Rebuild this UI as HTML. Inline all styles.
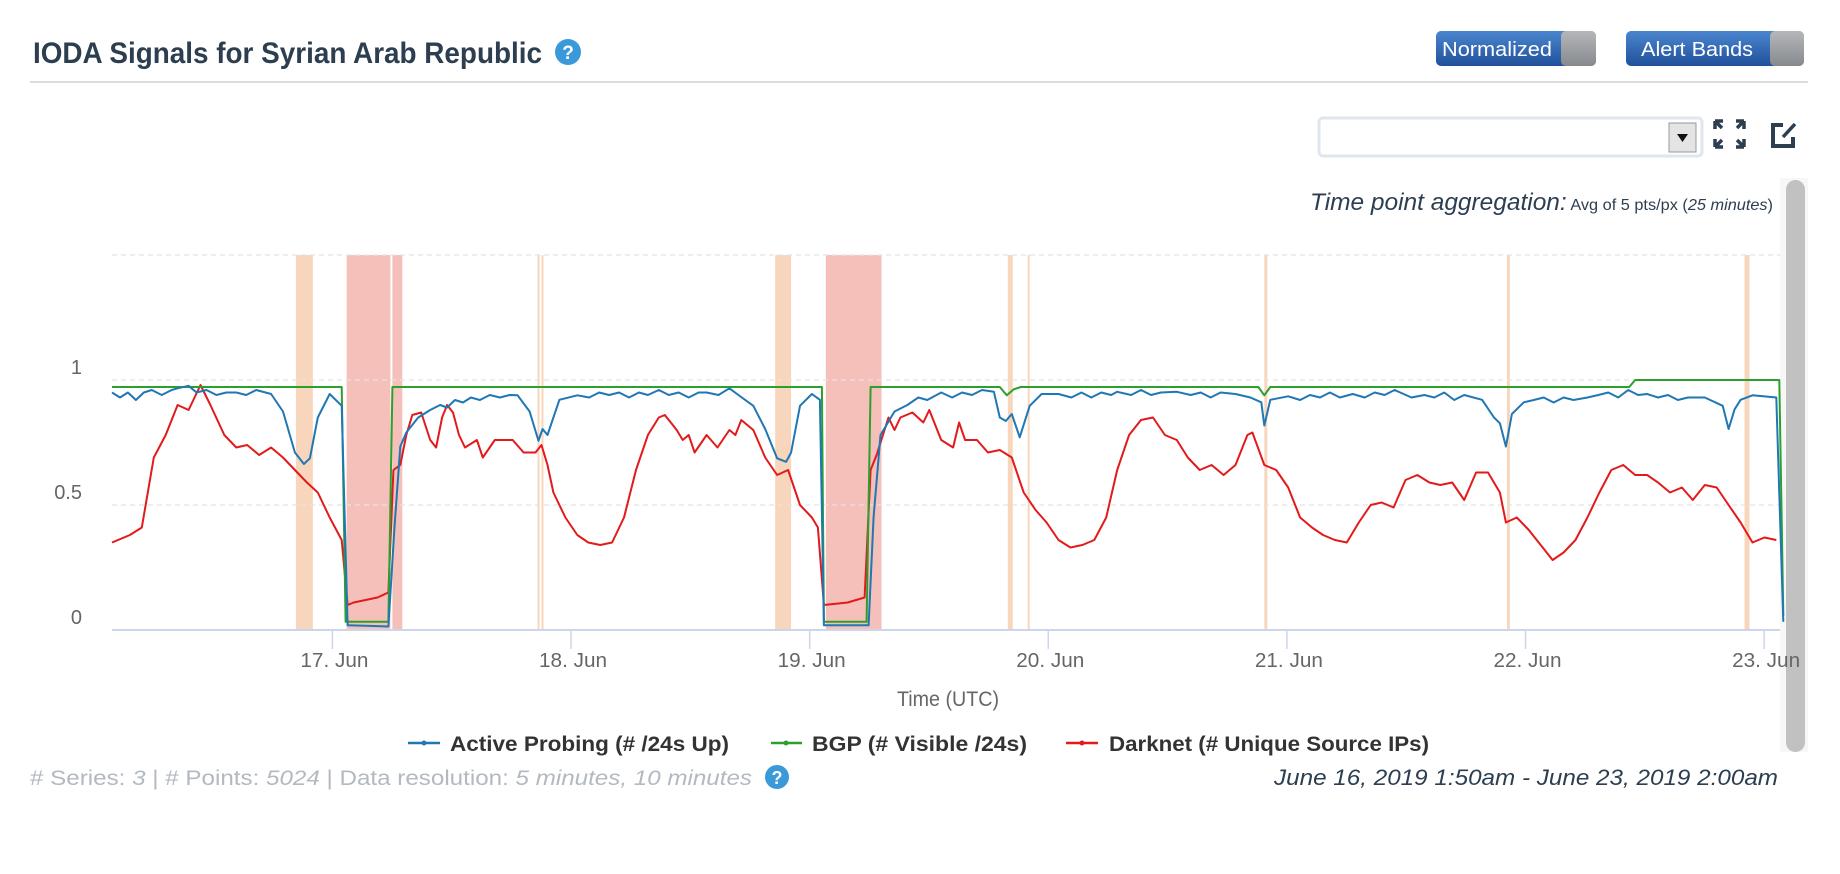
<!DOCTYPE html>
<html><head><meta charset="utf-8"><style>
html,body{margin:0;padding:0;background:#fff;width:1840px;height:874px;overflow:hidden;font-family:"Liberation Sans",sans-serif}
svg{position:absolute;left:0;top:0}
</style></head><body>
<svg id="page" width="1840" height="874" viewBox="0 0 1840 874" xmlns="http://www.w3.org/2000/svg" font-family="Liberation Sans, sans-serif">
<defs>
<linearGradient id="btn" x1="0" y1="0" x2="0" y2="1"><stop offset="0" stop-color="#4a86cf"/><stop offset="1" stop-color="#21509a"/></linearGradient>
<linearGradient id="knob" x1="0" y1="0" x2="0" y2="1"><stop offset="0" stop-color="#b5b7ba"/><stop offset="1" stop-color="#86898d"/></linearGradient>
</defs>
<g>
<text x="33" y="63" font-size="30" font-weight="bold" fill="#2c3e50" textLength="509" lengthAdjust="spacingAndGlyphs">IODA Signals for Syrian Arab Republic</text>
<g><circle cx="568" cy="52" r="13" fill="#3a9ad9"/><text x="568" y="59" font-size="19" font-weight="bold" fill="#fff" text-anchor="middle">?</text></g>
<line x1="30" y1="82" x2="1808" y2="82" stroke="#dcdcdc" stroke-width="2"/>
<g>
<rect x="1436" y="31" width="160" height="35" rx="5" fill="url(#btn)"/>
<rect x="1561" y="31" width="35" height="35" rx="5" fill="url(#knob)"/>
<text x="1442" y="56" font-size="20" fill="#fff" textLength="110" lengthAdjust="spacingAndGlyphs">Normalized</text>
</g>
<g>
<rect x="1626" y="31" width="178" height="35" rx="5" fill="url(#btn)"/>
<rect x="1770" y="31" width="34" height="35" rx="5" fill="url(#knob)"/>
<text x="1641" y="56" font-size="20" fill="#fff" textLength="112" lengthAdjust="spacingAndGlyphs">Alert Bands</text>
</g>
<g>
<rect x="1319" y="118" width="383" height="38" rx="4" fill="#fff" stroke="#dfe6ee" stroke-width="3"/>
<rect x="1669" y="123" width="27" height="29" fill="#e4e4e4" stroke="#999" stroke-width="1"/>
<path d="M1677 134 L1688 134 L1682.5 142 Z" fill="#111"/>
</g>
<g stroke="#2c3e50" stroke-width="3.5" fill="none">
<path d="M1715 121 L1715 129 M1715 121 L1723 121 M1716 122 L1722 128"/>
<path d="M1744 121 L1736 121 M1744 121 L1744 129 M1743 122 L1737 128"/>
<path d="M1715 147 L1715 139 M1715 147 L1723 147 M1716 146 L1722 140"/>
<path d="M1744 147 L1736 147 M1744 147 L1744 139 M1743 146 L1737 140"/>
</g>
<g fill="none" stroke="#2c3e50" stroke-width="4">
<path d="M1783 125 L1773 125 L1773 146 L1793 146 L1793 137"/>
<path d="M1783 137 L1795 124" stroke-width="3.5"/>
</g>
<g>
<rect x="1780" y="178" width="28" height="574" fill="#f7f7f7"/>
<rect x="1786" y="180" width="19" height="572" rx="9.5" fill="#c1c1c1"/>
</g>
<text x="1310" y="210" fill="#2c3e50" textLength="463" lengthAdjust="spacingAndGlyphs"><tspan font-size="24" font-style="italic">Time point aggregation:</tspan><tspan font-size="16"> Avg of 5 pts/px (</tspan><tspan font-size="16" font-style="italic">25 minutes</tspan><tspan font-size="16">)</tspan></text>
</g>
<g id="chart"></g>
<g>
<g><line x1="408" y1="743" x2="440" y2="743" stroke="#1f77b4" stroke-width="2.5"/><circle cx="424" cy="743" r="2.5" fill="#1f77b4"/><text x="450" y="751" font-size="21" font-weight="bold" fill="#333" textLength="279" lengthAdjust="spacingAndGlyphs">Active Probing (# /24s Up)</text></g>
<g><line x1="771" y1="743" x2="802" y2="743" stroke="#2ca02c" stroke-width="2.5"/><circle cx="786" cy="743" r="2.5" fill="#2ca02c"/><text x="812" y="751" font-size="21" font-weight="bold" fill="#333" textLength="215" lengthAdjust="spacingAndGlyphs">BGP (# Visible /24s)</text></g>
<g><line x1="1066" y1="743" x2="1098" y2="743" stroke="#e31a1c" stroke-width="2.5"/><circle cx="1082" cy="743" r="2.5" fill="#e31a1c"/><text x="1109" y="751" font-size="21" font-weight="bold" fill="#333" textLength="320" lengthAdjust="spacingAndGlyphs">Darknet (# Unique Source IPs)</text></g>
</g>
<text x="30" y="785" font-size="21" fill="#b3b9c0" textLength="722" lengthAdjust="spacingAndGlyphs"># Series: <tspan font-style="italic">3</tspan> | # Points: <tspan font-style="italic">5024</tspan> | Data resolution: <tspan font-style="italic">5 minutes, 10 minutes</tspan></text>
<g><circle cx="777" cy="777" r="12" fill="#3a9ad9"/><text x="777" y="784" font-size="18" font-weight="bold" fill="#fff" text-anchor="middle">?</text></g>
<text x="1778" y="785" font-size="22" font-style="italic" fill="#2c3e50" text-anchor="end" textLength="504" lengthAdjust="spacingAndGlyphs">June 16, 2019 1:50am - June 23, 2019 2:00am</text>
</svg>
<script>
// hours since June 16 01:50 UTC
const darknetHours=[0,1.8,3.0,4.2,5.4,6.6,7.7,8.9,9.9,11.3,
12.5,13.6,14.8,16.0,17.2,18.4,19.6,20.7,21.9,23.1,
23.7,24.3,26.7,27.8,28.3,29.0,29.6,30.2,31.1,32.0,
32.6,33.2,33.7,34.3,34.9,35.5,36.7,37.3,38.5,40.3,
41.4,42.6,43.2,43.8,44.4,45.6,46.8,47.9,49.1,50.3,
51.5,52.7,53.9,55.0,55.6,56.2,56.8,57.4,58.0,58.6,
59.8,60.9,62.1,62.7,63.3,64.5,65.7,66.9,68.0,69.2,
70.4,71.0,71.6,74.0,75.7,76.3,76.9,78.1,78.7,79.3,
80.5,81.6,82.2,83.4,84.6,85.2,85.8,87.0,88.1,89.3,
90.5,91.7,92.9,94.0,95.2,96.4,97.6,98.8,100.0,101.1,
102.3,103.5,104.7,105.9,107.1,108.2,109.4,110.6,111.8,113.0,
114.2,114.7,115.9,117.1,118.3,119.5,120.7,121.8,123.0,124.2,
125.4,126.6,127.7,128.9,130.1,131.3,132.5,133.6,134.8,136.0,
137.2,138.4,139.6,140.2,141.3,142.5,143.7,144.9,146.0,147.2,
148.4,149.6,150.8,152.0,153.2,154.4,155.5,156.7,157.9,159.0,
160.2,161.4,162.6,163.8,165.0,166.2,167.4];
const darknetValues=[.35,.38,.41,.69,.78,.90,.88,.98,.90,.78,
.73,.74,.70,.73,.69,.64,.59,.55,.45,.36,
.10,.11,.13,.15,.64,.66,.78,.86,.87,.76,
.73,.85,.90,.87,.78,.73,.76,.69,.76,.76,
.71,.71,.74,.66,.55,.45,.38,.35,.34,.35,
.45,.64,.78,.85,.86,.83,.80,.76,.78,.71,
.78,.73,.80,.78,.84,.80,.69,.62,.64,.50,
.45,.41,.10,.11,.13,.64,.70,.85,.80,.85,
.87,.83,.88,.76,.73,.83,.76,.76,.71,.72,
.69,.55,.48,.43,.36,.33,.34,.36,.45,.64,
.78,.84,.85,.78,.76,.69,.64,.66,.62,.66,
.78,.79,.66,.64,.57,.45,.41,.38,.36,.35,
.43,.50,.51,.49,.60,.62,.59,.58,.59,.52,
.63,.63,.55,.43,.45,.40,.34,.28,.31,.36,
.45,.55,.64,.66,.62,.62,.59,.55,.57,.52,
.58,.57,.50,.43,.35,.37,.36];
const probingHours=[0,.8,1.6,2.4,3.2,4,5,6,6.6,7.7,
8.5,9.5,10.5,11.5,12.5,13.5,14.5,16.0,17.2,18.4,
19.3,19.9,20.7,21.9,23.1,23.7,27.8,28.4,29.0,29.6,
30.8,32.0,33.0,33.7,34.5,35.3,36.1,37,38,39,
40,40.8,42.0,42.9,43.3,43.8,45.0,46.8,48,49,
50,51,52,53,53.9,55,56,57,58,59,
59.8,61,62.1,63,64.5,65.7,66.9,67.8,68.3,69.2,
70.4,71.2,71.6,76.1,76.6,77.3,78.7,80,81.1,82,
83.4,84.5,85.5,86.5,87.5,88.7,89.3,89.9,90.5,91.3,
92.3,93.5,95.2,96.5,97.5,98.5,99.5,100.5,101.1,102.5,
103.5,104.5,105.5,107.1,108.5,109.5,110.5,111.5,113.0,114.5,
115.6,115.9,116.5,118.3,119.5,120.5,121.5,122.5,123.5,124.8,
126,127,128,129,130.7,132,133,134,135,136,
137.8,139.0,139.6,140.2,140.8,142.0,143,144,145,146,
147,148.4,149.5,150.5,151.5,152.5,153.5,154.4,155.5,156.5,
157.5,158.5,160.2,162.0,162.6,163.2,163.8,165.0,167.4,168.1];
const probingValues=[.95,.93,.95,.92,.95,.96,.94,.96,.967,.977,
.95,.96,.94,.95,.95,.94,.96,.944,.874,.710,
.664,.687,.850,.944,.897,.019,.014,.407,.734,.790,
.850,.88,.90,.89,.92,.91,.93,.92,.94,.93,
.94,.939,.874,.757,.804,.780,.921,.939,.93,.95,
.94,.95,.93,.95,.94,.96,.94,.95,.93,.95,
.95,.94,.967,.94,.897,.804,.687,.673,.710,.897,
.944,.921,.019,.019,.453,.780,.874,.90,.93,.92,
.95,.93,.95,.94,.96,.953,.850,.836,.864,.771,
.897,.944,.944,.93,.95,.93,.95,.94,.953,.94,
.96,.94,.95,.953,.94,.95,.93,.95,.944,.93,
.911,.818,.921,.935,.92,.94,.93,.95,.93,.944,
.93,.95,.94,.96,.930,.94,.93,.95,.92,.94,
.921,.850,.827,.734,.864,.911,.92,.93,.91,.93,
.92,.930,.94,.95,.93,.96,.94,.944,.93,.94,
.92,.93,.930,.897,.804,.883,.921,.939,.930,.033];
const bgpHours=[0,23.1,23.5,27.8,28.2,71.4,71.6,75.9,76.3,89.3,90.0,90.7,91.4,115.3,115.9,116.5,152.6,153.2,167.7,168.1];
const bgpValues=[.972,.972,.033,.033,.972,.972,.033,.033,.972,.972,.939,.963,.972,.972,.939,.972,.972,1.0,1.0,.056];
const bandStart=[18.5,23.6,28.2,42.8,43.2,66.7,71.8,90.1,92.1,115.9,140.3,164.2];
const bandEnd=[20.2,28.0,29.2,43.0,43.4,68.3,77.4,90.6,92.3,116.2,140.6,164.7];
const bandLevel=['warn','crit','crit','warn','warn','warn','crit','warn','warn','warn','warn','warn'];
const yTicks=[0,0.5,1,1.5];
const yTickLabels=['0','0.5','1',''];
const dayTickHours=[22.17,46.17,70.17,94.17,118.17,142.17,166.17];
const dayTickLabels=['17. Jun','18. Jun','19. Jun','20. Jun','21. Jun','22. Jun','23. Jun'];

const NS='http://www.w3.org/2000/svg';
const X0=112,X1=1784,H_SPAN=168.17,Y0=630,YPER=250;
function xs(h){return X0+(h/H_SPAN)*(X1-X0);}
function ys(v){return Y0-v*YPER;}
const chart=document.getElementById('chart');
function mk(tag,attrs,parent){const e=document.createElementNS(NS,tag);for(const k in attrs)e.setAttribute(k,attrs[k]);(parent||chart).appendChild(e);return e;}

const bandsG=mk('g',{});


bandStart.forEach((s,i)=>{
  const r=mk('rect',{x:xs(s),y:ys(1.5),width:Math.max(1.5,xs(bandEnd[i])-xs(s)),height:ys(0)-ys(1.5),fill:bandLevel[i]==='crit'?'#f5bfba':'#f8d6bb'},bandsG);
  
  
});
yTicks.forEach((t,i)=>{
  if(t>0){
    const g=mk('line',{x1:X0,x2:1780,y1:ys(t),y2:ys(t),stroke:'#e3e3e3','stroke-width':1.2,'stroke-dasharray':'5,4'});
    
    
  }
  if(yTickLabels[i]){
    const tx=mk('text',{x:82,y:ys(t)-6,'font-size':20,fill:'#666','text-anchor':'end'});
    tx.textContent=yTickLabels[i];
    
    
  }
});
const ax=mk('line',{x1:X0,x2:1780,y1:Y0,y2:Y0,stroke:'#ccd6eb','stroke-width':2});


dayTickHours.forEach((h,i)=>{
  const tk=mk('line',{x1:xs(h),x2:xs(h),y1:Y0,y2:Y0+19,stroke:'#ccd6eb','stroke-width':1.5});
  
  
  const tx=mk('text',{x:xs(h)+2,y:667,'font-size':20,fill:'#666','text-anchor':'middle',textLength:68,lengthAdjust:'spacingAndGlyphs'});
  tx.textContent=dayTickLabels[i];
  
  
});
const xt=mk('text',{x:948,y:706,'font-size':21,fill:'#666','text-anchor':'middle',textLength:102,lengthAdjust:'spacingAndGlyphs'});
xt.textContent='Time (UTC)';



function line(hours,vals,color,name){
  const d=hours.map((h,i)=>(i?'L':'M')+xs(h).toFixed(1)+' '+ys(vals[i]).toFixed(1)).join(' ');
  const p=mk('path',{d:d,fill:'none',stroke:color,'stroke-width':2,'stroke-linejoin':'round'});
  
  
}
line(darknetHours,darknetValues,'#e31a1c','darknet-line');
line(bgpHours,bgpValues,'#2ca02c','bgp-line');
line(probingHours,probingValues,'#1f77b4','active-probing-line');
</script>
</body></html>
